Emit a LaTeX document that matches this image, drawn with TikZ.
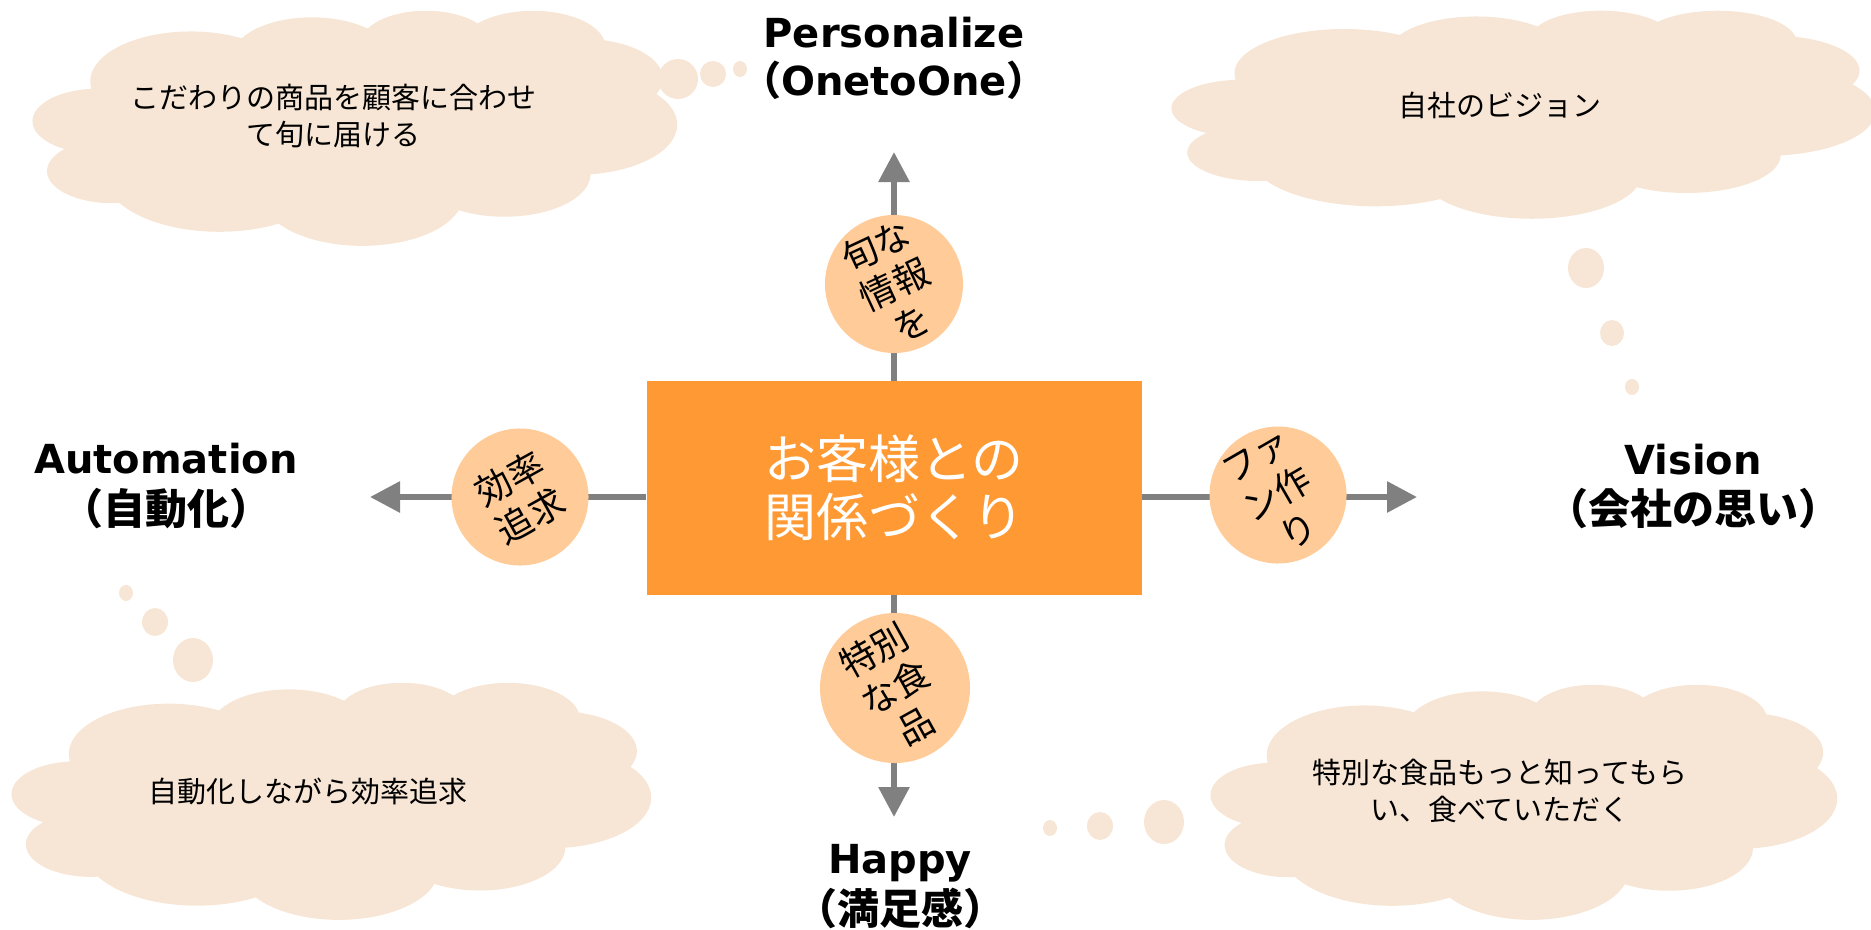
\documentclass[tikz,border=0pt]{standalone}
\usepackage{fontspec}
\setmainfont{DejaVu Sans}
\newfontfamily\jp{Noto Sans CJK JP}
\usetikzlibrary{arrows.meta}
\definecolor{cloudc}{HTML}{F7E6D5}
\definecolor{spotc}{HTML}{FFCC99}
\definecolor{boxc}{HTML}{FF9933}
\definecolor{axisc}{HTML}{808080}

\newcommand\cloudshape[4]{%
  \pgfmathsetmacro\cloudxu{#3/432}%
  \pgfmathsetmacro\cloudyu{-#4/432}%
  \fill[cloudc, shift={(#1,#2)}, x=\cloudxu pt, y=\cloudyu pt]
    (39,143.7)
    arc[start angle=-187.747, delta angle=128.11, x radius=67.53, y radius=91.90]
    arc[start angle=-152.02, delta angle=106.56, x radius=53.33, y radius=72.67]
    arc[start angle=-153.49, delta angle=116.16, x radius=43.65, y radius=59.45]
    arc[start angle=-139.71, delta angle=129.50, x radius=48.57, y radius=65.95]
    arc[start angle=-74.77, delta angle=97.98, x radius=53.33, y radius=72.73]
    arc[start angle=-37.52, delta angle=119.38, x radius=67.75, y radius=92.20]
    arc[start angle=0.46, delta angle=121.51, x radius=57.85, y radius=78.67]
    arc[start angle=16.84, delta angle=129.39, x radius=67.52, y radius=92.15]
    arc[start angle=58.98, delta angle=91.20, x radius=77.20, y radius=105.43]
    arc[start angle=83.31, delta angle=139.78, x radius=43.60, y radius=59.18]
    arc[start angle=120.36, delta angle=143.75, x radius=43.45, y radius=59.45]
    -- cycle;}

\begin{document}
\begin{tikzpicture}[x=1pt, y=-1pt,
  axis/.style={draw=axisc, line width=6pt, -{Triangle[length=30pt,width=30pt]}},
  spot/.style={circle, fill=spotc, inner sep=0pt, align=center,
    font=\jp\fontsize{36}{43}\selectfont},
  centre/.style={rectangle, fill=boxc, minimum width=495pt, minimum height=214pt,
    inner sep=0pt, align=center, text=white, font=\jp\fontsize{52}{58}\selectfont},
  cloudtext/.style={align=center, font=\jp\fontsize{29}{37}\selectfont},
  latinlabel/.style={anchor=base, font=\bfseries\fontsize{40}{48}\selectfont},
  jplabel/.style={anchor=base, font=\jp\bfseries\fontsize{42}{48}\selectfont},
  bubble/.style={fill=cloudc}]
\useasboundingbox (0,0) rectangle (1871,929);

% clouds
\cloudshape{33}{10}{644}{235}
\cloudshape{1172}{10}{703}{208}
\cloudshape{12}{682}{639}{237}
\cloudshape{1211}{684}{626}{235}

% thought bubbles
\fill[bubble] (678,79) ellipse[x radius=20, y radius=20];
\fill[bubble] (713,74) ellipse[x radius=13, y radius=13];
\fill[bubble] (740,69) ellipse[x radius=7, y radius=8];
\fill[bubble] (1586,268) ellipse[x radius=18, y radius=20];
\fill[bubble] (1612,333) ellipse[x radius=12, y radius=13];
\fill[bubble] (1632,387) ellipse[x radius=7, y radius=8];
\fill[bubble] (126,593) ellipse[x radius=7, y radius=8];
\fill[bubble] (155,622) ellipse[x radius=13, y radius=14];
\fill[bubble] (193,660) ellipse[x radius=20, y radius=22];
\fill[bubble] (1050,828) ellipse[x radius=7, y radius=8];
\fill[bubble] (1100,826) ellipse[x radius=13, y radius=14];
\fill[bubble] (1164,822) ellipse[x radius=20, y radius=22];

% cloud texts
\node[cloudtext] (tl) at (333,116) {こだわりの商品を顧客に合わせ\\て旬に届ける};
\node[cloudtext] (tr) at (1500,105) {自社のビジョン};
\node[cloudtext] (bl) at (308,791) {自動化しながら効率追求};
\node[cloudtext] (br) at (1500,791) {特別な食品もっと知ってもら\\い、食べていただく};

% centre box
\node[centre] (c) at (894,488) {お客様との\\関係づくり};

% arrow ends
\coordinate (ptop) at (894,152);
\coordinate (pbot) at (894,817);
\coordinate (pleft) at (370,497);
\coordinate (pright) at (1417,497);

\draw[axis] (c.north) -- (ptop);
\draw[axis] (c.south) -- (pbot);
\draw[axis] (c.west |- pleft) -- (pleft);
\draw[axis] (c.east |- pright) -- (pright);

% circles
\node[spot, minimum size=138pt, rotate=25] (s1) at (894,284) {旬な\\情報\\を};
\node[spot, minimum size=137pt, rotate=29] (s2) at (520,497) {効率\\追求};
\node[spot, minimum size=137pt, rotate=30] (s3) at (1278,495) {ファ\\ン作\\り};
\node[spot, minimum size=150pt, rotate=29] (s4) at (895,688) {特別\\な食\\品};

% axis labels
\node[latinlabel] (lp1) at (894,47) {Personalize};
\node[latinlabel] (lp2) at (894,95) {{\jp（}OnetoOne{\jp）}};
\node[latinlabel] (la1) at (166,473) {Automation};
\node[jplabel] (la2) at (166,524) {（自動化）};
\node[latinlabel] (lv1) at (1693,474) {Vision};
\node[jplabel] (lv2) at (1693,524) {（会社の思い）};
\node[latinlabel] (lh1) at (900,873) {Happy};
\node[jplabel] (lh2) at (900,924) {（満足感）};
\end{tikzpicture}
\end{document}
